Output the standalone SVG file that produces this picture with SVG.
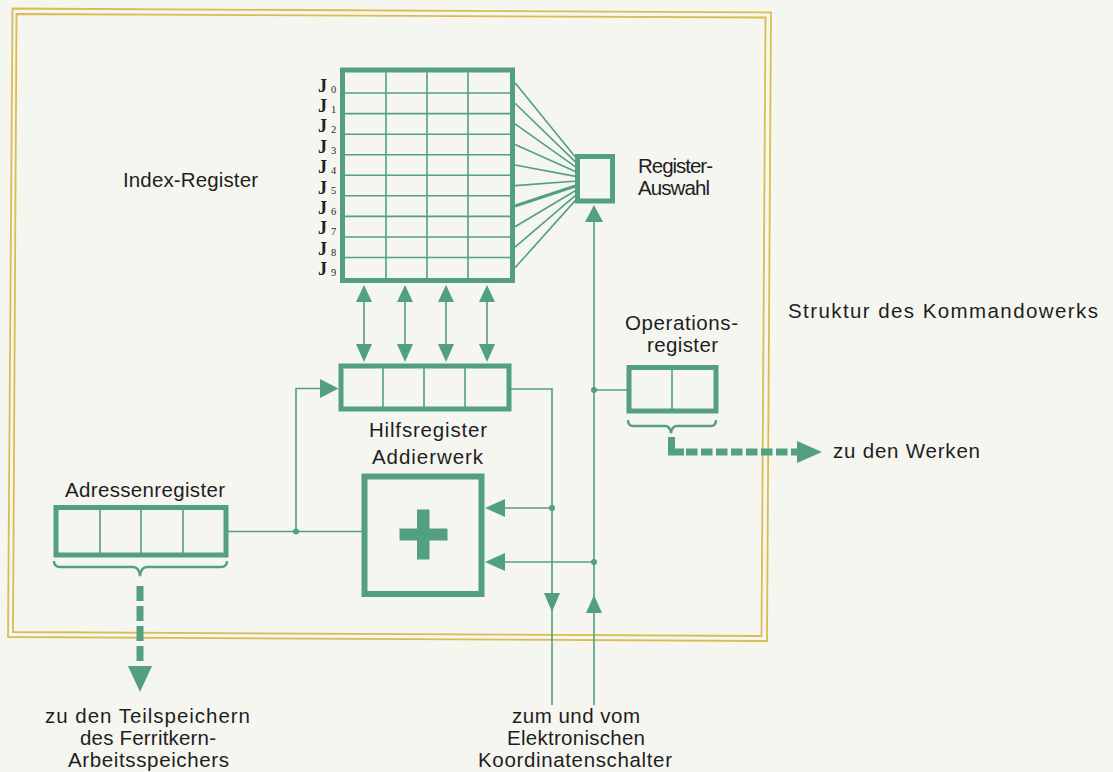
<svg xmlns="http://www.w3.org/2000/svg" width="1113" height="772" viewBox="0 0 1113 772">
<style>
.bg{fill:#f6f6f1}
.frame{fill:none;stroke:#d9bd52;stroke-width:1.8}
.box{fill:none;stroke:#52a07f;stroke-width:5}
.thin{fill:none;stroke:#52a07f;stroke-width:1.6}
.fill{fill:#52a07f}
.dash{fill:none;stroke:#52a07f;stroke-width:7}
.lbl{font-family:"Liberation Sans",Arial,sans-serif;font-size:20.5px;fill:#1e1e1e}
.j{font-family:"Liberation Serif","Times New Roman",serif;font-weight:bold;font-size:18px;fill:#1e1e1e}
.js{font-family:"Liberation Serif","Times New Roman",serif;font-size:10.5px;fill:#1e1e1e}
</style>
<rect class="bg" x="0" y="0" width="1113" height="772"/>
<g id="frame">
<polygon class="frame" points="12.5,8.5 771,12.5 767,641 8,637"/>
<polygon class="frame" points="16.5,14 765.5,17.5 761.5,636 13,632"/>
</g>
<g id="connectors">
<line class="thin" x1="515" y1="82.8" x2="577" y2="159"/>
<line class="thin" x1="515" y1="103.3" x2="577" y2="163.4"/>
<line class="thin" x1="515" y1="123.9" x2="577" y2="167.8"/>
<line class="thin" x1="515" y1="144.5" x2="577" y2="172.2"/>
<line class="thin" x1="515" y1="165" x2="577" y2="176.6"/>
<line class="thin" x1="515" y1="185.6" x2="577" y2="181"/>
<line class="thin" x1="515" y1="206.1" x2="577" y2="185.4" style="stroke-width:3.2"/>
<line class="thin" x1="515" y1="226.7" x2="577" y2="189.8"/>
<line class="thin" x1="515" y1="247.2" x2="577" y2="194.2"/>
<line class="thin" x1="515" y1="267.8" x2="577" y2="198.6"/>
<line class="thin" x1="364" y1="295" x2="364" y2="352"/>
<line class="thin" x1="405" y1="295" x2="405" y2="352"/>
<line class="thin" x1="446" y1="295" x2="446" y2="352"/>
<line class="thin" x1="487" y1="295" x2="487" y2="352"/>
<polygon class="fill" points="356,302 364,285 372,302"/>
<polygon class="fill" points="397,302 405,285 413,302"/>
<polygon class="fill" points="438,302 446,285 454,302"/>
<polygon class="fill" points="479,302 487,285 495,302"/>
<polygon class="fill" points="356,344 364,362 372,344"/>
<polygon class="fill" points="397,344 405,362 413,344"/>
<polygon class="fill" points="438,344 446,362 454,344"/>
<polygon class="fill" points="479,344 487,362 495,344"/>
<polyline class="thin" points="226,531.5 362,531.5"/>
<polyline class="thin" points="296,531.5 296,388.5 322,388.5"/>
<polygon class="fill" points="320,379 338.5,388.5 320,398"/>
<circle class="fill" cx="296" cy="531.5" r="3"/>
<polyline class="thin" points="511,389 552,389 552,705"/>
<line class="thin" x1="594" y1="215" x2="594" y2="705"/>
<polygon class="fill" points="585,222 594,205 603,222"/>
<line class="thin" x1="594" y1="390" x2="627" y2="390"/>
<circle class="fill" cx="594" cy="390" r="3"/>
<line class="thin" x1="503" y1="508" x2="552" y2="508"/>
<polygon class="fill" points="505,499 485,508 505,517"/>
<circle class="fill" cx="552" cy="508" r="3"/>
<line class="thin" x1="503" y1="562" x2="594" y2="562"/>
<polygon class="fill" points="505,553 485,562 505,571"/>
<circle class="fill" cx="594" cy="562" r="3"/>
<polygon class="fill" points="544,593 552,612 560,593"/>
<polygon class="fill" points="586,613 594,595 602,613"/>
<path class="thin" style="stroke-width:2.4" d="M54,561 Q54,567 60,567 L133,567 Q139,567 140,576 Q141,567 147,567 L221,567 Q227,567 227,561"/>
<path class="thin" style="stroke-width:2.4" d="M628,420 Q628,426 633,426 L665,426 Q670,426 671,433 Q672,426 677,426 L711,426 Q716,426 716,420"/>
<path class="dash" d="M671.5,437 V452 H684"/>
<line class="dash" x1="686" y1="452" x2="798" y2="452" stroke-dasharray="11.5 3.5"/>
<polygon class="fill" points="797,441 822,452 797,463"/>
<line class="dash" x1="140" y1="586" x2="140" y2="665" stroke-dasharray="15 5"/>
<polygon class="fill" points="128,666 152,666 140,692"/>
</g>
<g id="index-register">
<rect class="box" x="342.5" y="70" width="170" height="210.5"/>
<g class="thin">
<line x1="386" y1="72" x2="386" y2="278"/>
<line x1="427" y1="72" x2="427" y2="278"/>
<line x1="468" y1="72" x2="468" y2="278"/>
<line x1="345" y1="93" x2="510" y2="93"/>
<line x1="345" y1="113.6" x2="510" y2="113.6"/>
<line x1="345" y1="134.2" x2="510" y2="134.2"/>
<line x1="345" y1="154.7" x2="510" y2="154.7"/>
<line x1="345" y1="175.3" x2="510" y2="175.3"/>
<line x1="345" y1="195.8" x2="510" y2="195.8"/>
<line x1="345" y1="216.4" x2="510" y2="216.4"/>
<line x1="345" y1="237" x2="510" y2="237"/>
<line x1="345" y1="257.5" x2="510" y2="257.5"/>
</g>
<text class="j" x="318" y="91.7">J</text><text class="js" x="331" y="92.5">0</text>
<text class="j" x="318" y="112.1">J</text><text class="js" x="331" y="112.9">1</text>
<text class="j" x="318" y="132.4">J</text><text class="js" x="331" y="133.2">2</text>
<text class="j" x="318" y="152.8">J</text><text class="js" x="331" y="153.6">3</text>
<text class="j" x="318" y="173.2">J</text><text class="js" x="331" y="174">4</text>
<text class="j" x="318" y="193.5">J</text><text class="js" x="331" y="194.3">5</text>
<text class="j" x="318" y="213.9">J</text><text class="js" x="331" y="214.7">6</text>
<text class="j" x="318" y="234.3">J</text><text class="js" x="331" y="235.1">7</text>
<text class="j" x="318" y="254.7">J</text><text class="js" x="331" y="255.5">8</text>
<text class="j" x="318" y="275">J</text><text class="js" x="331" y="275.8">9</text>
<text class="lbl" x="123" y="187" textLength="135">Index-Register</text>
</g>
<g id="register-auswahl">
<rect class="box" x="577.5" y="156.5" width="35" height="44.5"/>
<text class="lbl" x="638" y="173" textLength="75">Register-</text>
<text class="lbl" x="638" y="195" textLength="72">Auswahl</text>
</g>
<g id="hilfsregister">
<rect class="box" x="341" y="366" width="168" height="43"/>
<line class="thin" x1="383" y1="368" x2="383" y2="407"/>
<line class="thin" x1="424" y1="368" x2="424" y2="407"/>
<line class="thin" x1="465" y1="368" x2="465" y2="407"/>
<text class="lbl" x="369" y="437" textLength="118">Hilfsregister</text>
</g>
<g id="operationsregister">
<rect class="box" x="629" y="367.5" width="87" height="43.5"/>
<line class="thin" x1="672" y1="370" x2="672" y2="409"/>
<text class="lbl" x="625" y="330" textLength="113">Operations-</text>
<text class="lbl" x="647" y="352" textLength="71">register</text>
</g>
<g id="addierwerk">
<rect class="box" x="364.5" y="476.5" width="117" height="117.5" style="stroke-width:6"/>
<rect class="fill" x="399.5" y="528.5" width="48" height="12"/>
<rect class="fill" x="417" y="509.5" width="12.5" height="50"/>
<text class="lbl" x="372" y="464" textLength="111">Addierwerk</text>
</g>
<g id="adressenregister">
<rect class="box" x="56" y="507.5" width="170" height="47.5"/>
<line class="thin" x1="100" y1="510" x2="100" y2="553"/>
<line class="thin" x1="141" y1="510" x2="141" y2="553"/>
<line class="thin" x1="183" y1="510" x2="183" y2="553"/>
<text class="lbl" x="65" y="497" textLength="160">Adressenregister</text>
</g>
<g id="labels">
<text class="lbl" x="788" y="318" textLength="310">Struktur des Kommandowerks</text>
<text class="lbl" x="833" y="458" textLength="147">zu den Werken</text>
<text class="lbl" x="45" y="723" textLength="205">zu  den  Teilspeichern</text>
<text class="lbl" x="80" y="745" textLength="136">des Ferritkern-</text>
<text class="lbl" x="68" y="767" textLength="161">Arbeitsspeichers</text>
<text class="lbl" x="512" y="723" textLength="128">zum und vom</text>
<text class="lbl" x="507" y="745" textLength="138">Elektronischen</text>
<text class="lbl" x="478" y="767" textLength="194">Koordinatenschalter</text>
</g>
</svg>
